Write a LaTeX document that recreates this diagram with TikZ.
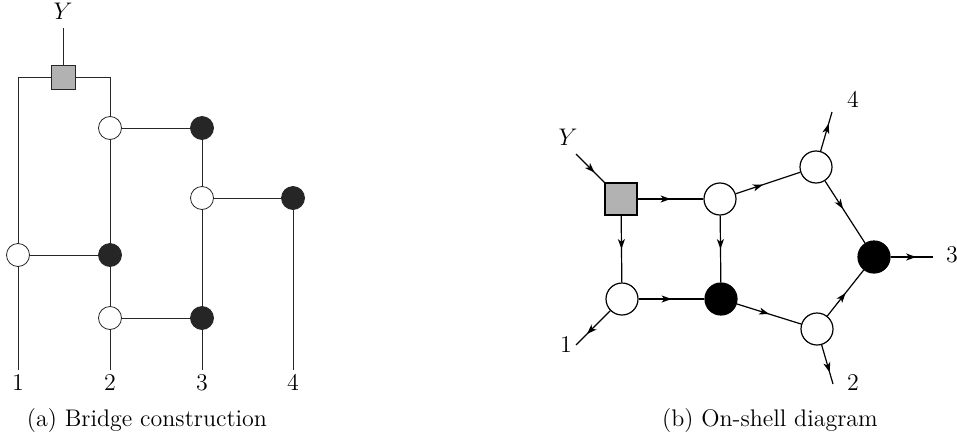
\documentclass[tikz,border=0pt]{standalone}
\usepackage{amsmath}
\usepackage{tikz}
\usetikzlibrary{positioning,decorations.markings}
\tikzset{mid/.style={decoration={markings,
    mark=at position #1 with {\fill (-5pt,1.8pt) -- (0,0) -- (-5pt,-1.8pt) -- (-3.6pt,0) -- cycle;}},
    postaction=decorate}, mid/.default=0.5}
\tikzstyle{wa}=[circle, draw=black!85, fill=white, inner sep=0pt, minimum size=11.5pt, line width=0.4pt]
\tikzstyle{ba}=[circle, draw=black!85, fill=black!85, inner sep=0pt, minimum size=11.5pt]
\tikzstyle{ya}=[rectangle, draw=black!85, fill=black!30, inner sep=0pt, minimum size=12pt, line width=0.5pt]
\tikzstyle{wb}=[circle, draw=black, fill=white, inner sep=0pt, minimum size=16pt, line width=0.6pt]
\tikzstyle{bb}=[circle, draw=black, fill=black, inner sep=0pt, minimum size=16pt, line width=0.6pt]
\tikzstyle{yb}=[rectangle, draw=black, fill=black!30, inner sep=0pt, minimum size=16pt, line width=0.6pt]
\tikzstyle{la}=[draw=black!85, line width=0.4pt]
\tikzstyle{lb}=[draw=black, line width=0.6pt]
\begin{document}
\begin{tikzpicture}[x=0.5pt, y=0.5pt, on grid, every node/.style={font=\fontsize{12pt}{14pt}\selectfont}]
        \useasboundingbox (0,0) rectangle (957,441);
        \node[ya] (sq) at (63,364) {};
        \node[wa] (w1) at (110,313) {};
        \node[ba] (b1) [right=46pt of w1] {};
        \node[wa] (w2) [below=35pt of b1] {};
        \node[ba] (b2) [right=45.5pt of w2] {};
        \node[ba] (b3) [below=63.5pt of w1] {};
        \node[wa] (w3) [left=46pt of b3] {};
        \node[wa] (w4) [below=31.5pt of b3] {};
        \node[ba] (b4) [right=46pt of w4] {};
        \coordinate (top) at (63,413);
        \coordinate (c1) at (18,364);
        \coordinate (c2) at (110,364);
        \coordinate (e1) at (18,71);
        \coordinate (e2) at (110,71);
        \coordinate (e3) at (202,71);
        \coordinate (e4) at (293,71);
        \node[anchor=base] (Y) at (63,422) {$Y$};
        \node (n1) at (18,58) {$1$};
        \node (n2) at (110,58) {$2$};
        \node (n3) at (202,58) {$3$};
        \node (n4) at (293,58) {$4$};
        \draw[la] (top) -- (sq);
        \draw[la] (sq) -- (c1) -- (w3) -- (e1);
        \draw[la] (sq) -- (c2) -- (w1) -- (b3) -- (w4) -- (e2);
        \draw[la] (w1) -- (b1) -- (w2) -- (b4) -- (e3);
        \draw[la] (w2) -- (b2) -- (e4);
        \draw[la] (w3) -- (b3);
        \draw[la] (w4) -- (b4);
        \node (capa) at (147,20) {(a) Bridge construction};

        \node[yb] (Q) at (621,242) {};
        \node[wb] (A) at (720,242) {};
        \node[wb] (B) at (816,274) {};
        \node[bb] (C) at (874,184) {};
        \node[wb] (D) at (817,112) {};
        \node[bb] (E) at (721,142) {};
        \node[wb] (F) at (622,142) {};
        \coordinate (y0) at (576,287);
        \coordinate (o1) at (576,96);
        \coordinate (o2) at (833,57);
        \coordinate (o3) at (933,184);
        \coordinate (o4) at (832,329);
        \node (Yb) at (568,304) {$Y$};
        \node (m1) at (566,96) {$1$};
        \node (m2) at (853,58) {$2$};
        \node (m3) at (952,186) {$3$};
        \node (m4) at (853,341) {$4$};
        \draw[lb, mid=0.65] (y0) -- (Q);
        \draw[lb, mid] (Q) -- (A);
        \draw[lb, mid] (Q) -- (F);
        \draw[lb, mid] (A) -- (E);
        \draw[lb, mid] (F) -- (E);
        \draw[lb, mid=0.42] (A) -- (B);
        \draw[lb, mid=0.45] (B) -- (C);
        \draw[lb, mid] (E) -- (D);
        \draw[lb, mid] (D) -- (C);
        \draw[lb, mid=0.6] (C) -- (o3);
        \draw[lb, mid=0.7] (B) -- (o4);
        \draw[lb, mid=0.7] (D) -- (o2);
        \draw[lb, mid=0.68] (F) -- (o1);
        \node (capb) at (770,20) {(b) On-shell diagram};
\end{tikzpicture}
\end{document}
